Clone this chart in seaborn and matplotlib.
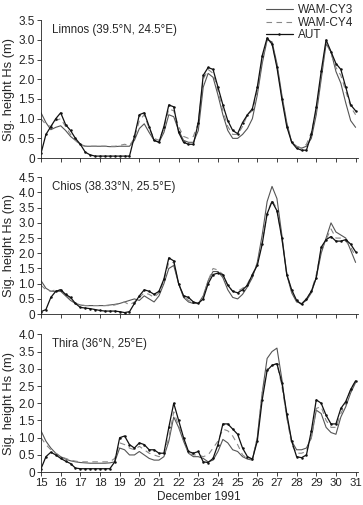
import numpy as np
import pandas as pd
import matplotlib
matplotlib.use("Agg")
import matplotlib.pyplot as plt
import seaborn as sns
from matplotlib.ticker import FuncFormatter

# 6-hourly time axis, 15 to 31 December 1991
days = np.arange(15.0, 31.01, 0.25)

stations = ["Limnos (39.5°N, 24.5°E)", "Chios (38.33°N, 25.5°E)", "Thira (36°N, 25°E)"]
series_names = ["WAM-CY3", "WAM-CY4", "AUT"]

limnos_cy3 = [1.15, 0.9, 0.72, 0.78, 0.82, 0.7, 0.55, 0.45, 0.35, 0.3, 0.3, 0.3, 0.3, 0.3, 0.29, 0.29, 0.3,
              0.3, 0.3, 0.45, 0.75, 0.87, 0.65, 0.45, 0.4, 0.65, 1.1, 1.05, 0.7, 0.45, 0.4, 0.4,
              0.7, 1.8, 2.15, 2.05, 1.6, 1.1, 0.7, 0.5, 0.5, 0.6, 0.75, 1.0, 1.6, 2.4, 3.0, 2.95,
              2.4, 1.6, 0.9, 0.4, 0.3, 0.25, 0.3, 0.5, 1.1, 2.0, 2.9, 2.7, 2.2, 1.9, 1.4, 0.95, 0.78]
limnos_cy4 = [1.0, 0.85, 0.8, 0.95, 1.0, 0.8, 0.6, 0.45, 0.33, 0.3, 0.3, 0.3, 0.3, 0.3, 0.3, 0.3, 0.32,
              0.35, 0.32, 0.5, 0.95, 1.1, 0.75, 0.5, 0.45, 0.75, 1.25, 1.2, 0.8, 0.55, 0.5, 0.55,
              0.9, 2.0, 2.25, 2.15, 1.7, 1.2, 0.8, 0.6, 0.6, 0.8, 1.1, 1.2, 1.7, 2.5, 3.0, 2.9,
              2.35, 1.55, 0.85, 0.4, 0.3, 0.25, 0.35, 0.65, 1.2, 2.1, 2.95, 2.65, 2.3, 2.1, 1.7, 1.3, 1.1]
limnos_aut = [0.12, 0.6, 0.8, 1.0, 1.15, 0.85, 0.7, 0.5, 0.35, 0.15, 0.08, 0.05, 0.05, 0.05, 0.05, 0.05, 0.05,
              0.05, 0.05, 0.55, 1.1, 1.15, 0.8, 0.45, 0.4, 0.8, 1.35, 1.3, 0.65, 0.4, 0.35, 0.35,
              0.9, 2.1, 2.3, 2.25, 1.8, 1.35, 0.95, 0.7, 0.62, 0.9, 1.1, 1.25, 1.8, 2.6, 3.05, 2.9,
              2.3, 1.5, 0.8, 0.4, 0.25, 0.2, 0.2, 0.6, 1.3, 2.2, 3.0, 2.7, 2.4, 2.25, 1.8, 1.35, 1.2]

chios_cy3 = [1.1, 0.85, 0.75, 0.75, 0.75, 0.6, 0.45, 0.35, 0.3, 0.28, 0.28, 0.28, 0.28, 0.28, 0.3, 0.32, 0.35,
             0.4, 0.45, 0.5, 0.45, 0.6, 0.5, 0.4, 0.6, 1.0, 1.5, 1.6, 1.0, 0.55, 0.4, 0.35,
             0.35, 0.6, 1.1, 1.4, 1.4, 1.2, 0.8, 0.55, 0.5, 0.65, 0.9, 1.2, 1.7, 2.6, 3.7, 4.2,
             3.8, 2.6, 1.3, 0.7, 0.4, 0.35, 0.45, 0.7, 1.2, 2.0, 2.5, 3.0, 2.7, 2.6, 2.5, 2.1, 1.7]
chios_cy4 = [0.95, 0.8, 0.75, 0.8, 0.8, 0.65, 0.5, 0.35, 0.3, 0.28, 0.28, 0.28, 0.28, 0.28, 0.28, 0.3, 0.35,
             0.4, 0.3, 0.4, 0.55, 0.7, 0.65, 0.55, 0.7, 1.1, 1.7, 1.7, 1.0, 0.6, 0.45, 0.38,
             0.35, 0.55, 1.1, 1.5, 1.45, 1.3, 0.95, 0.75, 0.75, 0.85, 1.0, 1.3, 1.65, 2.4, 3.3, 3.75,
             3.45, 2.5, 1.35, 0.75, 0.42, 0.35, 0.5, 0.75, 1.3, 2.1, 2.45, 2.8, 2.5, 2.5, 2.4, 2.2, 1.9]
chios_aut = [0.08, 0.15, 0.55, 0.75, 0.8, 0.65, 0.55, 0.35, 0.22, 0.2, 0.18, 0.15, 0.12, 0.1, 0.1, 0.1, 0.08,
             0.05, 0.08, 0.35, 0.6, 0.8, 0.75, 0.65, 0.75, 1.15, 1.85, 1.75, 1.0, 0.6, 0.55, 0.4,
             0.35, 0.5, 1.0, 1.3, 1.35, 1.3, 0.95, 0.75, 0.7, 0.8, 0.95, 1.3, 1.6, 2.3, 3.3, 3.7,
             3.4, 2.5, 1.3, 0.8, 0.45, 0.32, 0.5, 0.75, 1.2, 2.2, 2.45, 2.55, 2.4, 2.4, 2.45, 2.3, 2.05]

thira_cy3 = [1.2, 0.9, 0.7, 0.55, 0.45, 0.38, 0.33, 0.3, 0.28, 0.27, 0.26, 0.26, 0.26, 0.26, 0.27, 0.3, 0.7,
             0.65, 0.5, 0.5, 0.6, 0.5, 0.4, 0.35, 0.35, 0.45, 0.9, 1.6, 1.3, 0.9, 0.55, 0.45,
             0.45, 0.4, 0.3, 0.35, 0.6, 0.95, 0.85, 0.65, 0.6, 0.45, 0.38, 0.35, 1.0, 2.3, 3.3, 3.5,
             3.6, 2.7, 1.6, 0.9, 0.65, 0.65, 0.7, 1.0, 1.8, 1.7, 1.3, 1.15, 1.1, 1.6, 1.9, 2.3, 2.6]
thira_cy4 = [1.0, 0.8, 0.65, 0.55, 0.45, 0.4, 0.35, 0.32, 0.3, 0.3, 0.3, 0.3, 0.3, 0.3, 0.3, 0.4, 0.85,
             0.8, 0.7, 0.65, 0.75, 0.65, 0.55, 0.5, 0.45, 0.5, 1.0, 1.75, 1.35, 0.95, 0.55, 0.5,
             0.5, 0.45, 0.5, 0.7, 0.9, 1.25, 1.2, 1.05, 0.8, 0.5, 0.4, 0.38, 1.0, 2.3, 3.0, 3.1,
             3.15, 2.5, 1.6, 0.8, 0.55, 0.55, 0.6, 1.0, 1.85, 1.9, 1.5, 1.3, 1.3, 1.7, 2.0, 2.4, 2.65]
thira_aut = [0.1, 0.45, 0.58, 0.5, 0.4, 0.32, 0.25, 0.12, 0.1, 0.1, 0.1, 0.1, 0.1, 0.1, 0.1, 0.3, 1.0,
             1.05, 0.8, 0.7, 0.85, 0.8, 0.65, 0.65, 0.55, 0.55, 1.3, 2.0, 1.5, 1.0, 0.6, 0.55,
             0.6, 0.3, 0.28, 0.4, 0.8, 1.4, 1.4, 1.25, 1.1, 0.7, 0.45, 0.38, 0.9, 2.1, 2.95, 3.1,
             3.15, 2.6, 1.7, 0.9, 0.45, 0.42, 0.5, 1.2, 2.1, 2.0, 1.65, 1.4, 1.4, 1.85, 2.05, 2.4, 2.65]

panel_data = [
    (limnos_cy3, limnos_cy4, limnos_aut),
    (chios_cy3, chios_cy4, chios_aut),
    (thira_cy3, thira_cy4, thira_aut),
]
y_max = [3.5, 4.5, 4.0]
x_ticks = list(range(15, 32))

sns.set_style("ticks")
plt.rcParams["font.family"] = ["Liberation Sans", "DejaVu Sans"]

fig = plt.figure(figsize=(3.63, 5.05), dpi=100)
positions = [
    [0.113, 0.687, 0.872, 0.273],
    [0.113, 0.378, 0.872, 0.271],
    [0.113, 0.065, 0.872, 0.273],
]

styles = [
    dict(color="#555555", linewidth=0.8, linestyle="-"),
    dict(color="#888888", linewidth=0.8, linestyle=(0, (5, 4))),
    dict(color="#111111", linewidth=0.9, linestyle="-", marker="o", markersize=1.8,
         markeredgewidth=0),
]

fmt = FuncFormatter(lambda v, p: "0" if abs(v) < 1e-9 else f"{v:.1f}")

axes = []
for i, (pos, data, ym, name) in enumerate(zip(positions, panel_data, y_max, stations)):
    ax = fig.add_axes(pos)
    for vals, label, st in zip(data, series_names, styles):
        df = pd.DataFrame({"day": days, "hs": vals})
        sns.lineplot(data=df, x="day", y="hs", ax=ax, label=label, **st)
    ax.set_xlim(15, 31.1)
    ax.set_ylim(0, ym)
    ax.set_yticks(np.arange(0, ym + 0.01, 0.5))
    ax.yaxis.set_major_formatter(fmt)
    ax.set_xticks(x_ticks)
    ax.tick_params(axis="both", direction="out", length=3, width=0.6, labelsize=8.5, pad=1.5,
                   colors="#222222")
    ax.tick_params(axis="x", labelsize=8.2)
    if i < 2:
        ax.set_xticklabels([])
        ax.set_xlabel("")
    else:
        ax.set_xticklabels([str(t) for t in x_ticks])
        ax.set_xlabel("December 1991", fontsize=8.5, labelpad=1.5)
    ax.set_ylabel("Sig. height Hs (m)", fontsize=9.3, labelpad=2)
    for s in ["top", "right"]:
        ax.spines[s].set_visible(False)
    for s in ["left", "bottom"]:
        ax.spines[s].set_linewidth(0.6)
        ax.spines[s].set_color("#222222")
    ax.text(0.035, 0.97, name, transform=ax.transAxes, fontsize=8.3, va="top", ha="left")
    if ax.get_legend() is not None:
        ax.get_legend().remove()
    axes.append(ax)

handles, labels = axes[0].get_legend_handles_labels()
fig.legend(handles[:3], labels[:3], loc="upper right", bbox_to_anchor=(0.995, 1.008),
           frameon=False, fontsize=8.5, handlelength=2.3, handletextpad=0.4,
           labelspacing=0.05, borderpad=0.2)

fig.savefig("out.png", dpi=100)
